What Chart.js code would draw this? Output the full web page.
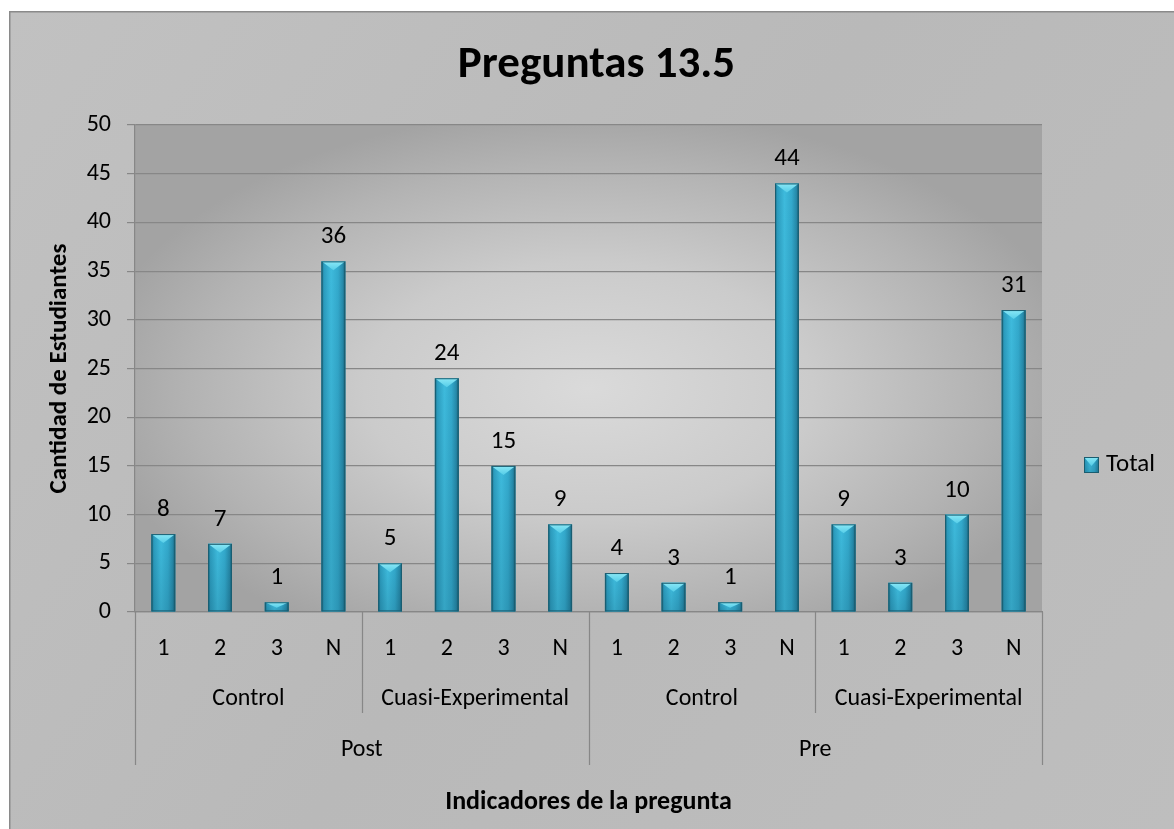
<!DOCTYPE html>
<html lang="es">
<head>
<meta charset="UTF-8" />
<title>Preguntas 13.5</title>
<script src="https://cdn.jsdelivr.net/npm/chart.js"></script>
<style>
  html, body { margin: 0; padding: 0; background: #fff; }
  #wrap { width: 1174px; height: 829px; }
</style>
</head>
<body>
<div id="wrap"><canvas id="grafico" width="1174" height="829"></canvas></div>
<script>
// datos de la gráfica
const indicadores = ["1", "2", "3", "N"];
const grupos = ["Control", "Cuasi-Experimental", "Control", "Cuasi-Experimental"];
const momentos = ["Post", "Pre"];
const totales = [8, 7, 1, 36, 5, 24, 15, 9, 4, 3, 1, 44, 9, 3, 10, 31];
const ticksY = { min: 0, max: 50, paso: 5 };

const fuente = 'Carlito, Lato, "Open Sans", sans-serif';

// etiquetas del primer nivel: 1,2,3,N por cada grupo
const etiquetas = [];
grupos.forEach(() => indicadores.forEach(i => etiquetas.push(i)));

// fondo del marco y del área de trazado
const fondo = {
  id: "fondo",
  afterLayout(chart) {
    // el título se centra sobre el área de trazado
    const t = chart.titleBlock;
    t.left = chart.chartArea.left + 8;
    t.right = chart.chartArea.right + 8;
  },
  beforeDraw(chart) {
    const { ctx, width, height, chartArea: a } = chart;
    ctx.save();
    ctx.fillStyle = "#ffffff";
    ctx.fillRect(0, 0, width, height);
    const g = ctx.createLinearGradient(9, 11, width, height);
    g.addColorStop(0, "#c1c1c1");
    g.addColorStop(0.5, "#b9b9b9");
    g.addColorStop(1, "#bebebe");
    ctx.fillStyle = g;
    ctx.fillRect(9, 11, width - 9, height - 11);
    ctx.strokeStyle = "#8a8a8a";
    ctx.lineWidth = 1.5;
    ctx.strokeRect(9.75, 11.75, width + 10, height + 10);

    // resplandor central del área de trazado
    const cx = (a.left + a.right) / 2, cy = (a.top + a.bottom) / 2 + 20;
    const rx = (a.right - a.left) / 2 * 1.1, ry = (a.bottom - a.top) / 2 * 1.15;
    ctx.beginPath();
    ctx.rect(a.left, a.top, a.right - a.left, a.bottom - a.top);
    ctx.clip();
    ctx.translate(cx, cy);
    ctx.scale(rx / ry, 1);
    const r = ctx.createRadialGradient(0, 0, 0, 0, 0, ry);
    r.addColorStop(0, "#dadada");
    r.addColorStop(0.45, "#cbcbcb");
    r.addColorStop(0.8, "#b3b3b3");
    r.addColorStop(1, "#a3a3a3");
    ctx.fillStyle = r;
    ctx.fillRect(-ry * 2, -ry * 2, ry * 4, ry * 4);
    ctx.restore();
  }
};

function pintarBarra(ctx, left, top, w, h) {
  const g = ctx.createLinearGradient(left, 0, left + w, 0);
  g.addColorStop(0, "#1a6a81");
  g.addColorStop(0.1, "#2c9cbe");
  g.addColorStop(0.4, "#3ebbdd");
  g.addColorStop(0.7, "#33a9cc");
  g.addColorStop(0.9, "#2689a9");
  g.addColorStop(1, "#175d72");
  ctx.fillStyle = g;
  ctx.fillRect(left, top, w, h);
  const v = ctx.createLinearGradient(0, top, 0, top + h);
  v.addColorStop(0, "rgba(0,30,45,0)");
  v.addColorStop(1, "rgba(0,30,45,0.14)");
  ctx.fillStyle = v;
  ctx.fillRect(left, top, w, h);
  // bisel superior
  const bh = Math.min(9, h * 0.6);
  const b = ctx.createLinearGradient(0, top, 0, top + bh);
  b.addColorStop(0, "#8ae8f6");
  b.addColorStop(1, "#55cde8");
  ctx.fillStyle = b;
  ctx.beginPath();
  ctx.moveTo(left, top);
  ctx.lineTo(left + w, top);
  ctx.lineTo(left + w / 2, top + bh);
  ctx.closePath();
  ctx.fill();
  ctx.strokeStyle = "#1a5d70";
  ctx.lineWidth = 1;
  ctx.strokeRect(left + 0.5, top + 0.5, w - 1, h - 1);
}

// relleno de las barras y valores encima
const barras = {
  id: "barras",
  afterDatasetsDraw(chart) {
    const { ctx } = chart;
    const meta = chart.getDatasetMeta(0);
    ctx.save();
    meta.data.forEach((bar, i) => {
      const { x, y, base, width } = bar.getProps(["x", "y", "base", "width"], true);
      pintarBarra(ctx, x - width / 2, y, width, base - y);
      ctx.fillStyle = "#000";
      ctx.font = "25px " + fuente;
      ctx.textAlign = "center";
      ctx.textBaseline = "alphabetic";
      ctx.fillText(String(chart.data.datasets[0].data[i]), x, y - 18);
    });
    ctx.restore();
  }
};

// líneas separadoras del eje jerárquico y leyenda
const separadores = {
  id: "separadores",
  afterDraw(chart) {
    const { ctx } = chart;
    const x = chart.scales.x, x2 = chart.scales.x2, x3 = chart.scales.x3;
    const n = etiquetas.length;
    const borde = i => i === 0 ? x.left : i === n ? x.right
      : (x.getPixelForValue(i - 1) + x.getPixelForValue(i)) / 2;
    ctx.save();
    ctx.strokeStyle = "#878787";
    ctx.lineWidth = 1.2;
    const porGrupo = indicadores.length;
    const porMomento = n / momentos.length;
    for (let i = 0; i <= n; i += porGrupo) {
      const px = Math.round(borde(i)) + 0.5;
      const fin = i % porMomento === 0 ? x3.top + 43 : x2.bottom - 9;
      ctx.beginPath();
      ctx.moveTo(px, x.top);
      ctx.lineTo(px, fin);
      ctx.stroke();
    }
    // leyenda
    const ds = chart.data.datasets[0];
    pintarBarra(ctx, 1084, 457, 15, 16);
    ctx.fillStyle = "#000";
    ctx.font = "25px " + fuente;
    ctx.textAlign = "left";
    ctx.textBaseline = "middle";
    ctx.fillText(ds.label, 1106, 465);
    ctx.restore();
  }
};

const gris = "#878787";
const fuenteTicks = { family: fuente, size: 24 };

new Chart(document.getElementById("grafico"), {
  type: "bar",
  data: {
    labels: etiquetas,
    datasets: [{
      label: "Total",
      data: totales,
      backgroundColor: "#35aed1",
      barPercentage: 0.42,
      categoryPercentage: 1
    }]
  },
  options: {
    responsive: false,
    animation: false,
    layout: { padding: { left: 10, top: 11, right: 132, bottom: 0 } },
    plugins: {
      legend: { display: false },
      tooltip: { enabled: false },
      title: {
        display: true,
        text: "Preguntas 13.5",
        color: "#000",
        font: { family: fuente, size: 45, weight: "bold" },
        padding: { top: 28, bottom: 32 }
      }
    },
    scales: {
      y: {
        min: ticksY.min,
        max: ticksY.max,
        ticks: { stepSize: ticksY.paso, color: "#000", padding: 16, font: fuenteTicks },
        grid: { color: gris, lineWidth: 1.2, tickLength: 8 },
        border: { color: gris, width: 1.2 },
        title: {
          display: true,
          text: "Cantidad de Estudiantes",
          color: "#000",
          font: { family: fuente, size: 25, weight: "bold" },
          padding: { top: 35, bottom: 0 }
        },
        afterFit(s) { s.width = 125; }
      },
      x: {
        weight: 0,
        ticks: { color: "#000", padding: 23, maxRotation: 0, autoSkip: false, font: fuenteTicks },
        grid: { display: false, drawTicks: false },
        border: { color: gris, width: 1.2 },
        afterFit(s) { s.height = 60; }
      },
      x2: {
        type: "category",
        position: "bottom",
        weight: 1,
        labels: grupos,
        offset: true,
        ticks: { color: "#000", padding: 13, maxRotation: 0, autoSkip: false, font: fuenteTicks },
        grid: { display: false, drawTicks: false },
        border: { display: false },
        afterFit(s) { s.height = 50; }
      },
      x3: {
        type: "category",
        position: "bottom",
        weight: 2,
        labels: momentos,
        offset: true,
        ticks: { color: "#000", padding: 14, maxRotation: 0, autoSkip: false, font: fuenteTicks },
        grid: { display: false, drawTicks: false },
        border: { display: false },
        title: {
          display: true,
          text: "Indicadores de la pregunta",
          color: "#000",
          font: { family: fuente, size: 26, weight: "bold" },
          padding: { top: 0, bottom: 11 }
        },
        afterFit(s) { s.height = 107; }
      }
    }
  },
  plugins: [fondo, barras, separadores]
});
</script>
</body>
</html>
